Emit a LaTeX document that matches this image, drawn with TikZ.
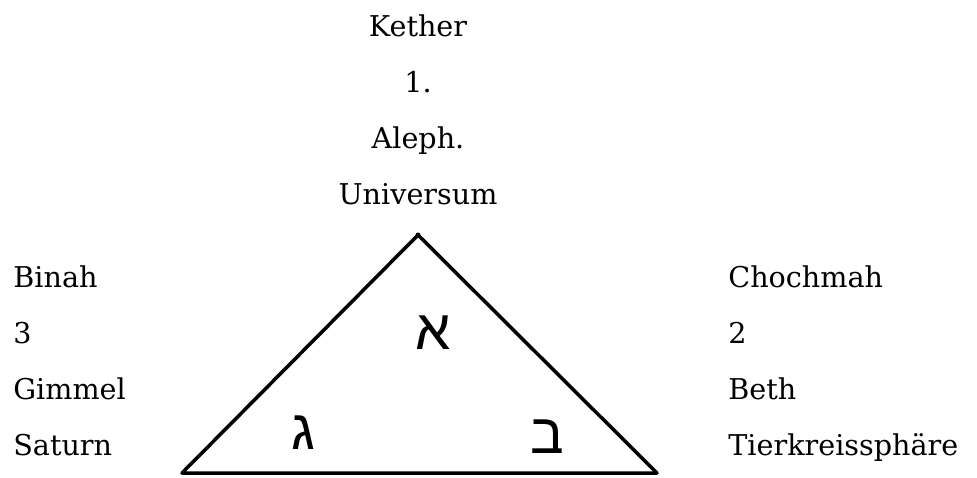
\documentclass[tikz,border=0pt]{standalone}
\usepackage{fontspec}
\setmainfont{DejaVu Serif}
\TeXXeTstate=1
\newfontfamily\hebfont[Script=Hebrew]{Liberation Sans}
\tikzset{
  label/.style={font=\fontsize{16.3}{20}\selectfont, inner sep=0pt},
  letter/.style={font=\hebfont\fontsize{32}{38}\selectfont, inner sep=0pt}
}
\begin{document}
\begin{tikzpicture}[x=0.02cm, y=-0.02cm]
\useasboundingbox (0,0) rectangle (977,477);
% top: Kether
\node[label, anchor=base] (kether) at (418,36) {Kether};
\node[label, anchor=base] (kone) at (418,92) {1.};
\node[label, anchor=base] (kaleph) at (418,148) {Aleph.};
\node[label, anchor=base] (kuni) at (418,204) {Universum};
% left: Binah
\node[label, anchor=base west] (binah) at (13,287) {Binah};
\node[label, anchor=base west] (bthree) at (13,343) {3};
\node[label, anchor=base west] (bgimmel) at (13,399) {Gimmel};
\node[label, anchor=base west] (bsaturn) at (13,455) {Saturn};
% right: Chochmah
\node[label, anchor=base west] (chochmah) at (728,287) {Chochmah};
\node[label, anchor=base west] (ctwo) at (728,343) {2};
\node[label, anchor=base west] (cbeth) at (728,399) {Beth};
\node[label, anchor=base west] (ctierkreis) at (728,455) {Tierkreissphäre};
% triangle
\coordinate (top) at (418,235);
\coordinate (left) at (182,473);
\coordinate (right) at (657,473);
\draw[line width=2pt, line join=round] (top) -- (left) -- (right) -- cycle;
\fill (top) circle (2.5);
% letters
\node[letter] (aleph) at (433,333) {\beginR א\endR};
\node[letter] (gimel) at (303,433) {\beginR ג\endR};
\node[letter] (beth) at (547,437) {\beginR ב\endR};
\end{tikzpicture}
\end{document}
